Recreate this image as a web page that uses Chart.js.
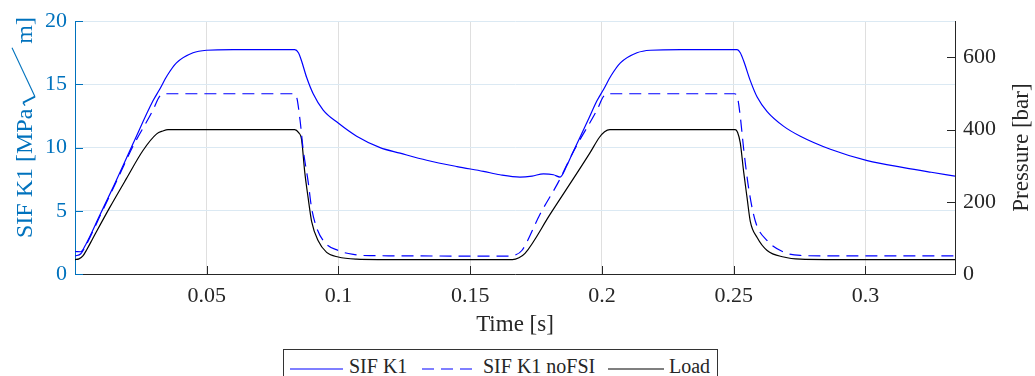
<!DOCTYPE html>
<html>
<head>
<meta charset="utf-8">
<script src="https://cdn.jsdelivr.net/npm/chart.js@4.4.1/dist/chart.umd.min.js"></script>
<style>
    html, body { margin: 0; padding: 0; background: #fff; }
    #wrap { position: relative; width: 1035px; height: 376px; overflow: hidden; font-family: "Liberation Serif", "Times New Roman", serif; }
    #chart { position: absolute; left: 0; top: 0; }
    .legend { position: absolute; left: 283px; top: 349px; width: 435px; height: 40px; border: 1px solid #333; background: #fff; box-sizing: border-box; }
    .legend svg { position: absolute; top: 18px; }
    .legend span { position: absolute; top: 5px; font-size: 20px; line-height: 22px; color: #262626; white-space: nowrap; }
</style>
</head>
<body>
<div id="wrap">
    <canvas id="chart" width="1035" height="376"></canvas>
    <div class="legend">
        <svg style="left:6px" width="53" height="2"><line x1="0" y1="1" x2="53" y2="1" stroke="#0000ff" stroke-width="1.2"/></svg>
        <span style="left:65px">SIF K1</span>
        <svg style="left:138px" width="57" height="2"><line x1="0" y1="1" x2="57" y2="1" stroke="#0000ff" stroke-width="1.2" stroke-dasharray="12 7"/></svg>
        <span style="left:199px">SIF K1 noFSI</span>
        <svg style="left:324px" width="56" height="2"><line x1="0" y1="1" x2="56" y2="1" stroke="#000" stroke-width="1.2"/></svg>
        <span style="left:385px">Load</span>
    </div>
</div>
<script>
// SIF K1 (with FSI), left axis
const sifTime = [0, 0.0022, 0.0040, 0.0093, 0.0150, 0.0220, 0.0296, 0.0321, 0.0350, 0.0385,
    0.0448, 0.0499, 0.0600, 0.0834, 0.0848, 0.0860, 0.0879, 0.0904, 0.0942, 0.0999,
    0.1069, 0.1158, 0.1234, 0.1335, 0.1450, 0.1550, 0.1613, 0.1689, 0.1735, 0.1778,
    0.1816, 0.1841, 0.1865, 0.1886, 0.1950, 0.1981, 0.2006, 0.2035, 0.2070, 0.2133,
    0.2184, 0.2300, 0.2513, 0.2525, 0.2538, 0.2563, 0.2589, 0.2627, 0.2690, 0.2753,
    0.2867, 0.3007, 0.3150, 0.3250, 0.3340];
const sifK1 = [1.78, 1.76, 2.3, 4.6, 7.1, 10.3, 13.7, 14.6, 15.7, 16.7,
    17.5, 17.7, 17.75, 17.75, 17.5, 16.85, 15.56, 14.26, 12.97, 11.94,
    10.9, 10.0, 9.56, 9.0, 8.5, 8.12, 7.85, 7.67, 7.75, 7.92,
    7.85, 7.67, 8.5, 9.46, 12.3, 13.7, 14.6, 15.7, 16.7, 17.5,
    17.7, 17.75, 17.75, 17.5, 16.85, 15.3, 14.0, 12.85, 11.68, 10.9,
    9.87, 8.97, 8.4, 8.05, 7.75];

// SIF K1 without FSI, left axis
const noFsiTime = [0, 0.0022, 0.0040, 0.0093, 0.0150, 0.0220, 0.0296, 0.0321, 0.0340, 0.0828,
    0.0841, 0.0854, 0.0866, 0.0885, 0.0898, 0.0917, 0.0948, 0.0999, 0.1056, 0.1119,
    0.1645, 0.1670, 0.1696, 0.1765, 0.1835, 0.1886, 0.1905, 0.1981, 0.2006, 0.2025,
    0.2503, 0.2514, 0.2525, 0.2538, 0.2557, 0.2582, 0.2627, 0.2690, 0.2753, 0.2850,
    0.3340];
const noFsiK1 = [1.43, 1.6, 2.2, 4.5, 7.0, 10.1, 12.97, 14.05, 14.26, 14.26,
    14.0, 12.2, 9.87, 7.29, 5.22, 3.67, 2.5, 1.86, 1.55, 1.45,
    1.42, 1.5, 1.86, 4.73, 7.29, 9.46, 10.2, 12.97, 14.05, 14.26,
    14.26, 14.0, 12.46, 9.87, 6.77, 4.19, 2.64, 1.73, 1.47, 1.43,
    1.43];

// Load pressure [bar], right axis
const loadTime = [0, 0.0015, 0.0030, 0.0045, 0.0068, 0.0131, 0.0195, 0.0258, 0.0310, 0.0333,
    0.0353, 0.0834, 0.0848, 0.0860, 0.0872, 0.0885, 0.0898, 0.0923, 0.0955, 0.0999,
    0.1069, 0.1150, 0.1660, 0.1685, 0.1708, 0.1803, 0.1955, 0.1990, 0.2010, 0.2030,
    0.2506, 0.2515, 0.2525, 0.2538, 0.2551, 0.2563, 0.2589, 0.2627, 0.2690, 0.2753,
    0.2850, 0.3340];
const loadPressure = [40, 42, 50, 68, 99, 183, 264, 342, 388, 396,
    400, 400, 392, 372, 282, 210, 146, 92, 60, 47,
    41, 40, 40, 45, 57, 165, 336, 378, 394, 400,
    400, 392, 363, 282, 210, 146, 101, 65, 47, 41,
    40, 40];

const xTickValues = [0.05, 0.1, 0.15, 0.2, 0.25, 0.3];
const xTickLabels = ['0.05', '0.1', '0.15', '0.2', '0.25', '0.3'];
const leftTickValues = [0, 5, 10, 15, 20];
const rightTickValues = [0, 200, 400, 600];

const leftColor = '#0072BD';
const axisColor = '#262626';
const serif = '"Liberation Serif", "Times New Roman", serif';

const toPoints = (xs, ys) => xs.map((x, i) => ({ x: x, y: ys[i] }));

// titles and inward tick marks, MATLAB style
const axisDecor = {
    id: 'axisDecor',
    afterDraw(chart) {
        const { ctx, chartArea: a, scales } = chart;
        ctx.save();
        ctx.lineWidth = 1;

        ctx.strokeStyle = leftColor;
        scales.y.ticks.forEach(t => {
            const py = Math.round(scales.y.getPixelForValue(t.value)) + 0.5;
            ctx.beginPath(); ctx.moveTo(a.left, py); ctx.lineTo(a.left + 8, py); ctx.stroke();
        });
        ctx.strokeStyle = axisColor;
        scales.y1.ticks.forEach(t => {
            const py = Math.round(scales.y1.getPixelForValue(t.value)) + 0.5;
            ctx.beginPath(); ctx.moveTo(a.right - 8, py); ctx.lineTo(a.right, py); ctx.stroke();
        });
        scales.x.ticks.forEach(t => {
            const px = Math.round(scales.x.getPixelForValue(t.value)) + 0.5;
            ctx.beginPath(); ctx.moveTo(px, a.bottom); ctx.lineTo(px, a.bottom - 8); ctx.stroke();
        });

        ctx.font = '23px ' + serif;
        ctx.textBaseline = 'middle';

        ctx.fillStyle = axisColor;
        ctx.textAlign = 'center';
        ctx.fillText('Time [s]', (a.left + a.right) / 2, 325);

        // left label: "SIF K1 [MPa" + long radical + "m]"
        ctx.save();
        ctx.translate(24, 238);
        ctx.rotate(-Math.PI / 2);
        ctx.fillStyle = leftColor;
        ctx.strokeStyle = leftColor;
        ctx.textAlign = 'left';
        ctx.textBaseline = 'alphabetic';
        ctx.font = '24px ' + serif;
        const head = 'SIF K1 [MPa';
        const tail = 'm]';
        const headW = ctx.measureText(head).width;
        const tailW = ctx.measureText(tail).width;
        const base = 8;
        ctx.fillText(head, 0, base);
        const tailX = 221 - tailW;
        ctx.fillText(tail, tailX, base);
        const r0 = headW + 3;
        ctx.lineWidth = 1.3;
        ctx.beginPath();
        ctx.moveTo(r0, base - 7);
        ctx.lineTo(r0 + 3, base - 9);
        ctx.stroke();
        ctx.lineWidth = 2;
        ctx.beginPath();
        ctx.moveTo(r0 + 3, base - 9);
        ctx.lineTo(r0 + 9, base + 3);
        ctx.stroke();
        ctx.lineWidth = 1.1;
        ctx.beginPath();
        ctx.moveTo(r0 + 9, base + 3);
        ctx.lineTo(tailX - 4, base - 20);
        ctx.stroke();
        ctx.restore();

        ctx.save();
        ctx.translate(1022, (a.top + a.bottom) / 2);
        ctx.rotate(-Math.PI / 2);
        ctx.fillStyle = axisColor;
        ctx.textAlign = 'center';
        ctx.fillText('Pressure [bar]', 0, 0);
        ctx.restore();

        ctx.restore();
    }
};

document.addEventListener('DOMContentLoaded', () => {
    Chart.defaults.font.family = serif;

    const ctx = document.getElementById('chart').getContext('2d');
    new Chart(ctx, {
        type: 'line',
        data: {
            datasets: [
                {
                    label: 'SIF K1',
                    data: toPoints(sifTime, sifK1),
                    yAxisID: 'y',
                    borderColor: '#0000ff',
                    borderWidth: 1.2
                },
                {
                    label: 'SIF K1 noFSI',
                    data: toPoints(noFsiTime, noFsiK1),
                    yAxisID: 'y',
                    borderColor: '#0000ff',
                    borderWidth: 1.2,
                    borderDash: [12, 7]
                },
                {
                    label: 'Load',
                    data: toPoints(loadTime, loadPressure),
                    yAxisID: 'y1',
                    borderColor: '#000000',
                    borderWidth: 1.2
                }
            ]
        },
        options: {
            responsive: false,
            animation: false,
            devicePixelRatio: 1,
            layout: { padding: { top: 16, left: 0, right: 0, bottom: 0 } },
            elements: {
                point: { radius: 0 },
                line: { cubicInterpolationMode: 'monotone', fill: false }
            },
            plugins: {
                legend: { display: false },
                tooltip: { enabled: false }
            },
            scales: {
                x: {
                    type: 'linear',
                    min: 0,
                    max: 0.334,
                    afterBuildTicks: s => { s.ticks = xTickValues.map(v => ({ value: v })); },
                    afterFit: s => { s.height = 102; },
                    grid: { color: '#dfdfdf', drawTicks: false },
                    border: { color: axisColor, width: 1 },
                    ticks: {
                        autoSkip: false,
                        maxRotation: 0,
                        padding: 9,
                        color: axisColor,
                        font: { size: 22 },
                        callback: (v) => {
                            const i = xTickValues.findIndex(t => Math.abs(t - v) < 1e-9);
                            return i >= 0 ? xTickLabels[i] : '';
                        }
                    }
                },
                y: {
                    position: 'left',
                    min: 0,
                    max: 20,
                    afterBuildTicks: s => { s.ticks = leftTickValues.map(v => ({ value: v })); },
                    afterFit: s => { s.width = 75; },
                    grid: { color: '#dbe9f3', drawTicks: false },
                    border: { color: leftColor, width: 1 },
                    ticks: { padding: 8, color: leftColor, font: { size: 22 } }
                },
                y1: {
                    position: 'right',
                    min: 0,
                    max: 700,
                    afterBuildTicks: s => { s.ticks = rightTickValues.map(v => ({ value: v })); },
                    afterFit: s => { s.width = 80; },
                    grid: { display: false, drawTicks: false },
                    border: { color: axisColor, width: 1 },
                    ticks: { padding: 8, color: axisColor, font: { size: 22 } }
                }
            }
        },
        plugins: [axisDecor]
    });
});
</script>
</body>
</html>
